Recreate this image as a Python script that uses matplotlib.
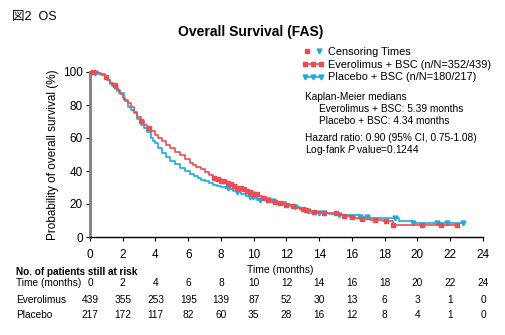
import numpy as np
import matplotlib
matplotlib.use('Agg')
import matplotlib.pyplot as plt
from matplotlib.lines import Line2D
from matplotlib.legend_handler import HandlerTuple, HandlerLine2D
import matplotlib.transforms as mtransforms

plt.rcParams['font.family'] = ['Liberation Sans', 'Noto Sans CJK JP', 'DejaVu Sans']
plt.rcParams['mathtext.fontset'] = 'custom'
plt.rcParams['mathtext.rm'] = 'Liberation Sans'
plt.rcParams['mathtext.it'] = 'Liberation Sans:italic'

# ---- data ----
eve_t = [0, 0.3, 0.5, 0.7, 0.9, 1.1, 1.25, 1.4, 1.55, 1.7, 1.85, 2.0, 2.15, 2.3, 2.5, 2.7,
         2.9, 3.1, 3.3, 3.5, 3.7, 3.95, 4.15, 4.4, 4.65, 4.9, 5.2, 5.5, 5.8, 6.1, 6.3,
         6.5, 6.75, 7.0, 7.25, 7.5, 7.75, 8.0, 8.25, 8.5, 8.75, 9.0, 9.25, 9.5, 9.75,
         10.0, 10.25, 10.5, 10.75, 11.0, 11.25, 11.5, 11.85, 12.2, 12.5, 12.8, 13.1,
         13.4, 13.7, 14.0, 14.3, 14.6, 15.2, 15.5, 15.85, 16.2, 16.5, 17.1, 17.9,
         18.5, 22.4]
eve_s = [100, 100, 99.5, 98.5, 97, 95, 93.5, 92, 90.5, 89, 86.5, 84, 82.5, 81, 78.5, 76,
         73, 70, 68, 66, 64, 61.6, 60, 58, 56, 54, 51.5, 49.5, 47, 45, 43.8,
         42.5, 41, 39.5, 37.7, 36, 35, 34, 33, 32, 31, 30, 29, 28, 27,
         26, 24.7, 23.5, 22.5, 21.5, 21, 20.5, 19.5, 18.5, 17.7, 17, 16.4,
         15.8, 15.4, 15, 14.7, 14.4, 13.4, 12.9, 12.4, 11.7, 11, 10.4, 9.6,
         7.3, 7.3]
pla_t = [0, 0.3, 0.5, 0.7, 0.9, 1.05, 1.2, 1.35, 1.5, 1.65, 1.8, 2.05, 2.3, 2.5, 2.7,
         2.9, 3.1, 3.3, 3.5, 3.7, 3.85, 3.95, 4.15, 4.4, 4.65, 4.9, 5.2, 5.5, 5.8, 6.1,
         6.35, 6.6, 6.8, 7.0, 7.25, 7.5, 7.75, 8.0, 8.25, 8.5, 8.75, 9.0, 9.25, 9.5,
         9.75, 10.0, 10.2, 11.0, 11.35, 11.7, 11.95, 12.2, 12.5, 12.8, 13.1, 13.4,
         14.6, 15.0, 16.5, 17.1, 18.9, 19.7, 22.8]
pla_s = [100, 99.5, 99, 98, 97, 95, 93, 91.5, 90, 88.5, 87, 83, 79, 77, 75,
         71.5, 68, 65.8, 63.6, 60, 58, 56.7, 54, 51, 48.5, 46, 44, 42, 40, 38,
         36.8, 35.5, 34.7, 34, 32.8, 31.7, 31, 30.5, 29.7, 29, 28, 27, 26, 25,
         24.2, 23.5, 22.6, 22, 21.5, 21, 20.2, 19.5, 18.2, 17, 15.7, 14.4,
         14, 13.4, 12.4, 11.6, 10, 8.3, 8.3]
eve_cens = [0.2, 1.0, 1.5, 3.1, 3.6, 7.6, 7.8, 8.0, 8.2, 8.4, 8.6, 8.8, 9.0, 9.2, 9.4,
            9.6, 9.8, 10.0, 10.2, 10.6, 10.9, 11.3, 11.6, 12.0, 12.4, 13.0, 13.2,
            13.7, 14.3, 15.0, 15.5, 16.0, 16.6, 17.4, 18.05, 18.5, 20.3, 21.45, 22.4]
pla_cens = [0.3, 8.4, 9.0, 9.75, 9.96, 10.4, 10.9, 11.2, 12.5, 13.3, 14.0, 14.3,
            15.2, 16.5, 16.9, 18.6, 19.7, 21.2, 21.8, 22.8]
risk_times = [0, 2, 4, 6, 8, 10, 12, 14, 16, 18, 20, 22, 24]
eve_risk = [439, 355, 253, 195, 139, 87, 52, 30, 13, 6, 3, 1, 0]
pla_risk = [217, 172, 117, 82, 60, 35, 28, 16, 12, 8, 4, 1, 0]
x_ticks = [0, 2, 4, 6, 8, 10, 12, 14, 16, 18, 20, 22, 24]
y_ticks = [0, 20, 40, 60, 80, 100]

RED = '#EE4B53'
BLUE = '#19ADE0'

W, H = 506, 335
fig = plt.figure(figsize=(W / 100, H / 100), dpi=100)
ax = fig.add_axes([90 / W, 1 - 237 / H, (483 - 90) / W, (237 - 72) / H])


def surv_at(times, ts, ss):
    ts = np.asarray(ts)
    ss = np.asarray(ss)
    idx = np.searchsorted(ts, times, side='right') - 1
    idx = np.clip(idx, 0, len(ss) - 1)
    return ss[idx]


ax.step(pla_t, pla_s, where='post', color=BLUE, lw=1.2, clip_on=False, zorder=3)
ax.step(eve_t, eve_s, where='post', color=RED, lw=1.2, clip_on=False, zorder=4)
ax.plot(pla_cens, surv_at(pla_cens, pla_t, pla_s), ls='none', marker='v',
        color=BLUE, ms=3.5, clip_on=False, zorder=3)
ax.plot(eve_cens, surv_at(eve_cens, eve_t, eve_s), ls='none', marker='s',
        color=RED, ms=3, clip_on=False, zorder=4)

ax.set_xlim(0, 24)
ax.set_ylim(0, 100)
ax.set_xticks(x_ticks)
ax.set_yticks(y_ticks)
ax.tick_params(axis='both', direction='out', length=3, width=0.8, labelsize=8.5, pad=6)
ax.tick_params(axis='y', pad=2)
for s in ['top', 'right']:
    ax.spines[s].set_visible(False)
ax.spines['left'].set_color('#7f7f7f')
ax.spines['left'].set_linewidth(2)
ax.spines['bottom'].set_linewidth(1)
ax.set_ylabel('Probability of overall survival (%)', fontsize=8.5, labelpad=3)

# titles
fig.text(12 / W, 1 - 17 / H, '図2  OS', fontsize=9, va='center', ha='left')
fig.text(178 / W, 1 - 32 / H, 'Overall Survival (FAS)', fontsize=10, fontweight='bold',
         va='center', ha='left')
fig.text(280 / W, 1 - 270 / H, 'Time (months)', fontsize=7.5, va='center', ha='center')

# legend
h_c1 = Line2D([], [], ls='none', marker='s', color=RED, ms=3)
h_c2 = Line2D([], [], ls='none', marker='v', color=BLUE, ms=3.5)
h_e = Line2D([], [], color=RED, lw=1.2, marker='s', ms=3)
h_p = Line2D([], [], color=BLUE, lw=1.2, marker='v', ms=3.5)
fig.legend([(h_c1, h_c2), h_e, h_p],
           ['Censoring Times', 'Everolimus + BSC (n/N=352/439)', 'Placebo + BSC (n/N=180/217)'],
           handler_map={tuple: HandlerTuple(ndivide=None, pad=0.2),
                        h_e: HandlerLine2D(numpoints=3), h_p: HandlerLine2D(numpoints=3)},
           loc='upper left', bbox_to_anchor=(302 / W, 1 - 47 / H), frameon=False,
           fontsize=7.9, handlelength=2.0, handletextpad=0.4, labelspacing=0.25,
           borderpad=0, borderaxespad=0)

fs = 7.3
fig.text(305 / W, 1 - 97 / H, 'Kaplan-Meier medians', fontsize=fs, va='center')
fig.text(319 / W, 1 - 109 / H, 'Everolimus + BSC: 5.39 months', fontsize=fs, va='center')
fig.text(319 / W, 1 - 121 / H, 'Placebo + BSC: 4.34 months', fontsize=fs, va='center')
fig.text(305 / W, 1 - 138 / H, 'Hazard ratio: 0.90 (95% CI, 0.75-1.08)', fontsize=fs, va='center')
fig.text(305 / W, 1 - 150 / H, r'Log-fank $\it{P}$ value=0.1244', fontsize=fs, va='center')

# at-risk table
trans = mtransforms.blended_transform_factory(ax.transData, fig.transFigure)
fig.text(16 / W, 1 - 272 / H, 'No. of patients still at risk', fontsize=7.2,
         fontweight='bold', va='center')
rows = [('Time (months)', risk_times, 283), ('Everolimus', eve_risk, 300),
        ('Placebo', pla_risk, 315)]
for label, vals, ypx in rows:
    fig.text(16 / W, 1 - ypx / H, label, fontsize=7.3, va='center')
    for t, v in zip(risk_times, vals):
        ax.text(t, 1 - ypx / H, str(v), transform=trans, fontsize=7.3,
                ha='center', va='center')

fig.savefig('out.png', dpi=100)
